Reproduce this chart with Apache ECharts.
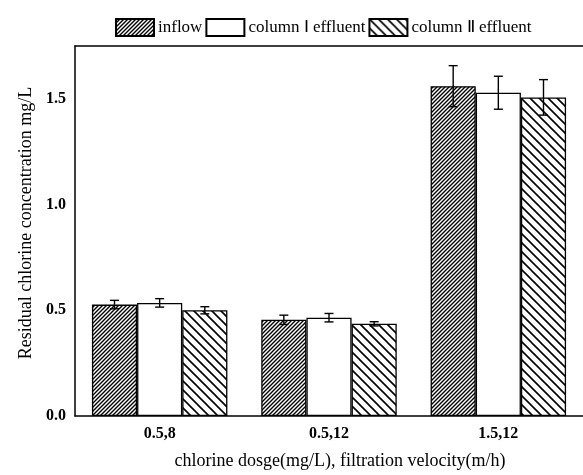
<!DOCTYPE html>
<html>
<head>
<meta charset="utf-8">
<script src="https://cdn.jsdelivr.net/npm/echarts@6/dist/echarts.min.js"></script>
<style>
  html, body { margin: 0; padding: 0; background: #fff; }
  #chart { width: 583px; height: 475px; }
</style>
</head>
<body>
<div id="chart"></div>
<script>
// Categories: chlorine dose (mg/L), filtration velocity (m/h)
const categories = ['0.5,8', '0.5,12', '1.5,12'];
const seriesNames = ['inflow', 'column Ⅰ effluent', 'column Ⅱ effluent'];

// Residual chlorine (mg/L) and standard deviations
const inflow = [0.527, 0.455, 1.560];
const columnI = [0.535, 0.465, 1.529];
const columnII = [0.500, 0.436, 1.507];
const inflowErr = [0.020, 0.022, 0.097];
const columnIErr = [0.020, 0.020, 0.078];
const columnIIErr = [0.017, 0.010, 0.084];

const yTicks = [0, 0.5, 1.0, 1.5];

const FONT = '"Liberation Serif", "Times New Roman", serif';

// Hatch tiles drawn on small canvases and repeated as fills
function hatch(size, lineWidth, dir) {
  const c = document.createElement('canvas');
  c.width = size; c.height = size;
  const g = c.getContext('2d');
  g.fillStyle = '#fff';
  g.fillRect(0, 0, size, size);
  g.strokeStyle = '#000';
  g.lineWidth = lineWidth;
  g.beginPath();
  if (dir === 'up') {
    g.moveTo(0, size); g.lineTo(size, 0);
    g.moveTo(-1, 1); g.lineTo(1, -1);
    g.moveTo(size - 1, size + 1); g.lineTo(size + 1, size - 1);
  } else {
    g.moveTo(0, 0); g.lineTo(size, size);
    g.moveTo(-1, size - 1); g.lineTo(1, size + 1);
    g.moveTo(size - 1, -1); g.lineTo(size + 1, 1);
  }
  g.stroke();
  return { image: c, repeat: 'repeat' };
}

const fills = [hatch(4, 1.4, 'up'), '#ffffff', hatch(9, 1.6, 'down')];
const values = [inflow, columnI, columnII];
const errors = [inflowErr, columnIErr, columnIIErr];

const barSeries = values.map((vals, k) => ({
  name: seriesNames[k],
  type: 'bar',
  xAxisIndex: 0,
  yAxisIndex: 0,
  data: vals,
  barGap: '0%',
  barCategoryGap: '20%',
  itemStyle: { color: fills[k], borderColor: '#000', borderWidth: 1.3 },
  emphasis: { disabled: true },
  z: 2
}));

// Error bars centred on each bar of the group
const errSeries = values.map((vals, k) => ({
  type: 'custom',
  xAxisIndex: 0,
  yAxisIndex: 0,
  z: 5,
  silent: true,
  data: vals.map((v, i) => [i, v, errors[k][i]]),
  renderItem: function (params, api) {
    const catW = api.size([1, 0])[0];
    const barW = catW * 0.8 / 3;
    const i = api.value(0), v = api.value(1), e = api.value(2);
    const x = api.coord([i, v])[0] + (k - 1) * barW;
    const yTop = api.coord([i, v + e])[1];
    const yBot = api.coord([i, v - e])[1];
    const cap = 4.5;
    const style = { stroke: '#000', lineWidth: 1.4 };
    return {
      type: 'group',
      children: [
        { type: 'line', shape: { x1: x, y1: yTop, x2: x, y2: yBot }, style: style },
        { type: 'line', shape: { x1: x - cap, y1: yTop, x2: x + cap, y2: yTop }, style: style },
        { type: 'line', shape: { x1: x - cap, y1: yBot, x2: x + cap, y2: yBot }, style: style }
      ]
    };
  }
}));

const chart = echarts.init(document.getElementById('chart'), null, { renderer: 'canvas' });

chart.setOption({
  animation: false,
  backgroundColor: '#fff',
  textStyle: { fontFamily: FONT },
  legend: {
    data: seriesNames,
    top: 13,
    left: 110,
    icon: 'rect',
    itemWidth: 38,
    itemHeight: 17,
    itemGap: 3,
    selectedMode: false,
    textStyle: { fontFamily: FONT, fontSize: 17, color: '#000', padding: [0, 0, 0, -1] }
  },
  grid: { left: 75, right: -3, top: 46, bottom: 57 },
  xAxis: [
    {
      type: 'category',
      data: categories,
      position: 'bottom',
      axisLine: { lineStyle: { color: '#000', width: 1.5 } },
      axisTick: { alignWithLabel: true, inside: true, length: 6, lineStyle: { color: '#000', width: 1.3 } },
      axisLabel: { color: '#000', fontFamily: FONT, fontWeight: 'bold', fontSize: 16, margin: 10 },
      name: 'chlorine dosge(mg/L), filtration velocity(m/h)',
      nameLocation: 'middle',
      nameGap: 36,
      nameTextStyle: { fontFamily: FONT, fontSize: 18, color: '#000', padding: [0, 0, 0, 22] }
    },
    {
      type: 'category',
      data: categories,
      position: 'bottom',
      axisLine: { show: false },
      axisTick: { inside: true, length: 3, lineStyle: { color: '#000', width: 1.3 } },
      axisLabel: { show: false }
    },
    {
      type: 'category',
      data: categories,
      position: 'top',
      axisLine: { lineStyle: { color: '#000', width: 1.5 } },
      axisTick: { show: false },
      axisLabel: { show: false }
    }
  ],
  yAxis: [
    {
      type: 'value',
      min: 0,
      max: 1.75,
      interval: 0.5,
      position: 'left',
      splitLine: { show: false },
      axisLine: { show: true, lineStyle: { color: '#000', width: 1.5 } },
      axisTick: { inside: true, length: 7, lineStyle: { color: '#000', width: 1.3 } },
      axisLabel: {
        color: '#000', fontFamily: FONT, fontWeight: 'bold', fontSize: 16, margin: 9,
        formatter: v => (yTicks.some(t => Math.abs(t - v) < 1e-9) ? v.toFixed(1) : '')
      },
      name: 'Residual chlorine concentration mg/L',
      nameLocation: 'middle',
      nameGap: 40,
      nameTextStyle: { fontFamily: FONT, fontSize: 18, color: '#000', padding: [0, 0, 0, 16] }
    },
    {
      type: 'value',
      min: 0,
      max: 1.75,
      interval: 0.25,
      position: 'left',
      splitLine: { show: false },
      axisLine: { show: false },
      axisTick: { inside: true, length: 4, lineStyle: { color: '#000', width: 1.3 } },
      axisLabel: { show: false }
    }
  ],
  series: barSeries.concat(errSeries)
});
</script>
</body>
</html>
